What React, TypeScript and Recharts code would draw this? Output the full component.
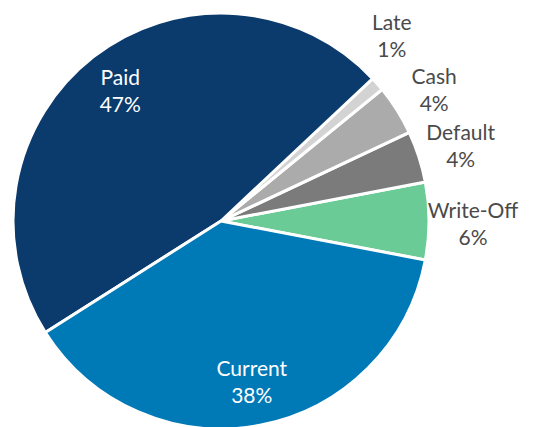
import React from 'react';
import { PieChart, Pie, Cell } from 'recharts';

const categories = ['Write-Off', 'Default', 'Cash', 'Late', 'Paid', 'Current'];
const shares = [6, 4, 3.9, 1.1, 47, 38];
const sliceColors = ['#6bcb97', '#7b7b7b', '#ababab', '#d3d3d3', '#0b3b6c', '#0079b7'];

const data = categories.map((name, i) => ({ name, value: shares[i] }));

const RADIAN = Math.PI / 180;
const CX = 221;
const CY = 221;
const OUTER = 208;
const START = -10.8;
const LABEL_GAP = 54;

// place the outside labels on a ring, pushing them up when they would collide
const total = shares.reduce((s, v) => s + v, 0);
const labelPos: Record<string, { x: number; y: number; inside: boolean }> = {};
(() => {
  let acc = START;
  let prevY = Infinity;
  const ring = OUTER + 44;
  shares.forEach((v, i) => {
    const sweep = (v / total) * 360;
    const mid = acc + sweep / 2;
    acc += sweep;
    const inside = v / total > 0.2;
    if (inside) {
      const r = OUTER * 0.79;
      labelPos[categories[i]] = {
        x: CX + r * Math.cos(-mid * RADIAN),
        y: CY + r * Math.sin(-mid * RADIAN),
        inside,
      };
      return;
    }
    let x = CX + ring * Math.cos(-mid * RADIAN);
    let y = CY + ring * Math.sin(-mid * RADIAN) + 3;
    if (y > prevY - LABEL_GAP) {
      y = prevY - LABEL_GAP;
      const dy = CY - y;
      x = CX + Math.sqrt(Math.max(ring * ring - dy * dy, 0));
    }
    prevY = y;
    labelPos[categories[i]] = { x, y, inside };
  });
})();

const renderLabel = ({ percent, name }: any) => {
  const p = labelPos[name];
  const fill = p.inside ? '#ffffff' : '#4a4a4a';
  return (
    <text
      x={p.x}
      y={p.y}
      fill={fill}
      textAnchor="middle"
      fontFamily="Lato, sans-serif"
      fontSize={21}
    >
      <tspan x={p.x} dy={-6}>{name}</tspan>
      <tspan x={p.x} dy={27}>{`${Math.round(percent * 100)}%`}</tspan>
    </text>
  );
};

export default function App() {
  return (
    <div style={{ position: 'absolute', left: 0, top: 0, background: '#fff' }}>
      <PieChart width={534} height={427} margin={{ top: 0, right: 0, bottom: 0, left: 0 }}>
        <Pie
          data={data}
          dataKey="value"
          nameKey="name"
          cx={CX}
          cy={CY}
          outerRadius={OUTER}
          startAngle={START}
          endAngle={START + 360}
          stroke="#ffffff"
          strokeWidth={3}
          labelLine={false}
          label={renderLabel}
          isAnimationActive={false}
        >
          {data.map((entry, i) => (
            <Cell key={`cell-${i}`} fill={sliceColors[i]} />
          ))}
        </Pie>
      </PieChart>
    </div>
  );
}
